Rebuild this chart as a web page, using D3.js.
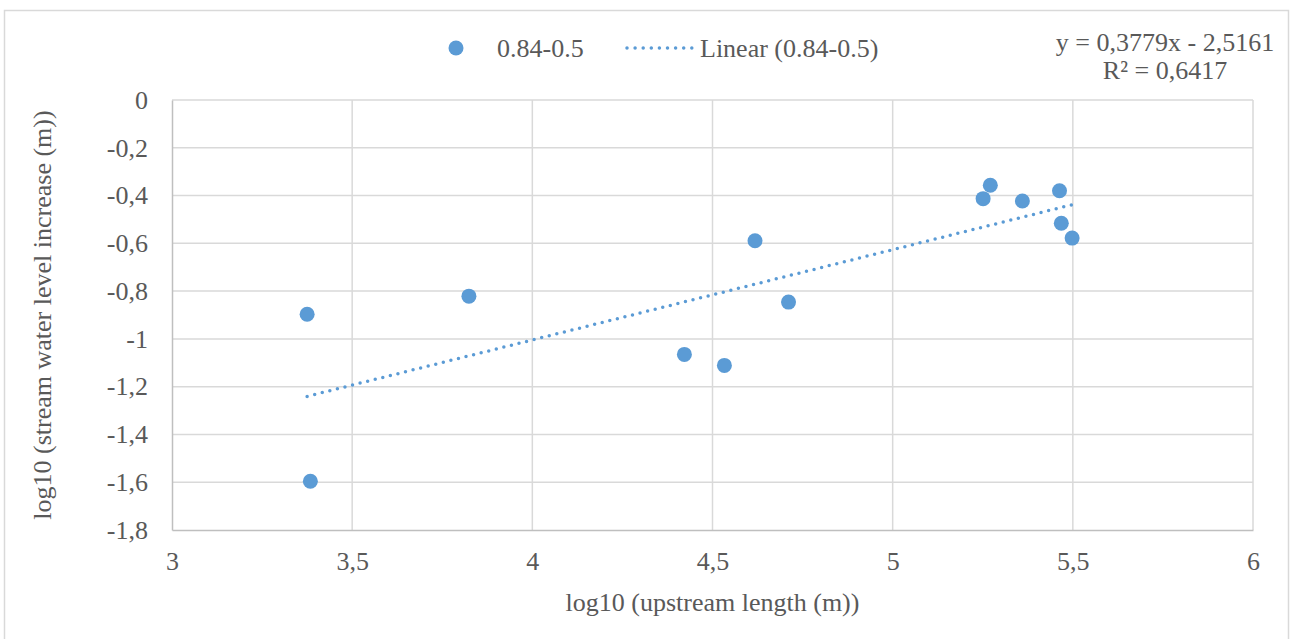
<!DOCTYPE html>
<html>
<head>
<meta charset="utf-8">
<script src="https://cdn.jsdelivr.net/npm/d3@7"></script>
<style>
  html, body { margin: 0; padding: 0; background: #fff; }
  svg, svg text { font-family: "Liberation Serif", "Times New Roman", "DejaVu Serif", serif !important; }
</style>
</head>
<body>
<svg id="chart" width="1292" height="639"></svg>
<script>
// ---- data ----
const seriesName = "0.84-0.5";
const trendName = "Linear (0.84-0.5)";
const xValues = [3.375, 3.384, 3.824, 4.422, 4.533, 4.618, 4.711, 5.251, 5.271, 5.360, 5.463, 5.468, 5.498];
const yValues = [-0.897, -1.596, -0.821, -1.065, -1.111, -0.589, -0.846, -0.413, -0.357, -0.423, -0.380, -0.516, -0.578];
const trendCoef = [0.3779, -2.5161];   // slope, intercept (from the chart's equation)
const equationLines = ["y = 0,3779x - 2,5161", "R² = 0,6417"];
const xTicks = [3, 3.5, 4, 4.5, 5, 5.5, 6];
const yTicks = [0, -0.2, -0.4, -0.6, -0.8, -1, -1.2, -1.4, -1.6, -1.8];
const xTitle = "log10 (upstream length (m))";
const yTitle = "log10 (stream water level increase (m))";

// ---- layout ----
const W = 1292, H = 639;
const plot = { left: 172, right: 1253, top: 100, bottom: 530 };
const blue = "#5b9bd5";
const textColor = "#595959";
const serif = '"Liberation Serif", "Times New Roman", "DejaVu Serif", serif';
const fmt = v => String(+v.toFixed(1)).replace(".", ",");

const svg = d3.select("#chart");
svg.append("rect").attr("x", 0).attr("y", 0).attr("width", W).attr("height", H).attr("fill", "#fff");
svg.append("rect").attr("x", 4.5).attr("y", 10.5).attr("width", 1284).attr("height", 660)
  .attr("fill", "none").attr("stroke", "#d9d9d9").attr("stroke-width", 1.5);

const x = d3.scaleLinear().domain([3, 6]).range([plot.left, plot.right]);
const y = d3.scaleLinear().domain([-1.8, 0]).range([plot.bottom, plot.top]);

function styleText(sel) {
  sel.style("font-family", serif).style("font-size", "26px").style("fill", textColor)
     .attr("font-family", null);
}

// gridlines
const grid = svg.append("g");
grid.selectAll("line.h").data(yTicks.filter(d => d > -1.8)).join("line")
  .attr("x1", plot.left).attr("x2", plot.right)
  .attr("y1", d => y(d)).attr("y2", d => y(d))
  .attr("stroke", "#d9d9d9").attr("stroke-width", 1.5);
grid.selectAll("line.v").data(xTicks.filter(d => d > 3)).join("line")
  .attr("y1", plot.top).attr("y2", plot.bottom)
  .attr("x1", d => x(d)).attr("x2", d => x(d))
  .attr("stroke", "#d9d9d9").attr("stroke-width", 1.5);

// axes
const xAxis = d3.axisBottom(x).tickValues(xTicks).tickFormat(fmt).tickSize(0).tickPadding(22);
const gx = svg.append("g").attr("transform", `translate(0,${plot.bottom})`).call(xAxis)
  .attr("font-family", null).attr("font-size", null);
gx.select(".domain").attr("stroke", "#bfbfbf").attr("stroke-width", 1.5);
gx.selectAll("text").call(styleText);

const yAxis = d3.axisLeft(y).tickValues(yTicks).tickFormat(fmt).tickSize(0).tickPadding(24);
const gy = svg.append("g").attr("transform", `translate(${plot.left},0)`).call(yAxis)
  .attr("font-family", null).attr("font-size", null);
gy.select(".domain").attr("stroke", "#bfbfbf").attr("stroke-width", 1.5);
gy.selectAll("text").call(styleText);

// trendline
const xMin = d3.min(xValues), xMax = d3.max(xValues);
const line = d3.line().x(d => x(d)).y(d => y(trendCoef[0] * d + trendCoef[1]));
svg.append("path").datum([xMin, xMax]).attr("d", line)
  .attr("fill", "none").attr("stroke", blue).attr("stroke-width", 3.5)
  .attr("stroke-linecap", "round").attr("stroke-dasharray", "0 7.8");

// points
svg.append("g").selectAll("circle").data(xValues.map((v, i) => [v, yValues[i]])).join("circle")
  .attr("cx", d => x(d[0])).attr("cy", d => y(d[1])).attr("r", 7.5).attr("fill", blue);

// legend
const lg = svg.append("g");
lg.append("circle").attr("cx", 456).attr("cy", 48).attr("r", 7.5).attr("fill", blue);
lg.append("text").attr("x", 497).attr("y", 57).text(seriesName).call(styleText);
lg.append("line").attr("x1", 627).attr("x2", 692).attr("y1", 48).attr("y2", 48)
  .attr("stroke", blue).attr("stroke-width", 3.5).attr("stroke-linecap", "round").attr("stroke-dasharray", "0 8.1");
lg.append("text").attr("x", 700).attr("y", 57).text(trendName).call(styleText);

// equation
svg.append("g").selectAll("text").data(equationLines).join("text")
  .attr("x", 1165).attr("y", (d, i) => 51 + i * 28).attr("text-anchor", "middle")
  .text(d => d).call(styleText);

// axis titles
svg.append("text").attr("x", (plot.left + plot.right) / 2).attr("y", 611).attr("text-anchor", "middle")
  .text(xTitle).call(styleText);
svg.append("text").attr("transform", `translate(51,${(plot.top + plot.bottom) / 2}) rotate(-90)`)
  .attr("text-anchor", "middle").text(yTitle).call(styleText);
</script>
</body>
</html>
